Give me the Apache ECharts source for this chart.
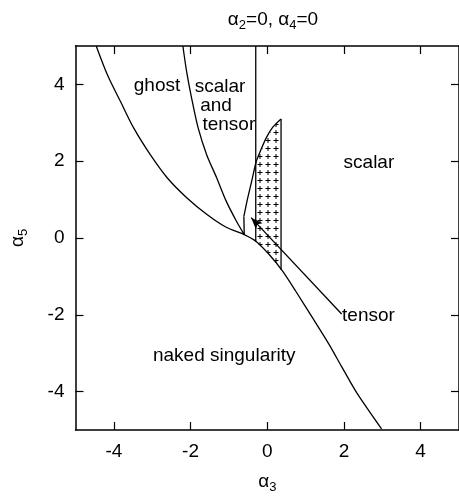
<!DOCTYPE html>
<html><head><meta charset="utf-8">
<script src="https://cdn.jsdelivr.net/npm/echarts@6/dist/echarts.min.js"></script>
<style>html,body{margin:0;padding:0;background:#fff}#c{width:459px;height:499px}</style>
</head><body><div id="c"></div>
<script>
// ---- data ----
const xTicks = [-4, -2, 0, 2, 4];
const yTicks = [-4, -2, 0, 2, 4];

// ghost / naked singularity boundary
const ghostCurve = [[-4.46, 5.0], [-4.16, 4.23], [-3.82, 3.54], [-3.48, 2.86], [-3.05, 2.17], [-2.61, 1.57],
  [-2.10, 1.05], [-1.58, 0.62], [-1.07, 0.28], [-0.60, 0.09], [-0.29, -0.09], [0.05, -0.43], [0.40, -0.86],
  [0.74, -1.38], [1.17, -2.06], [1.60, -2.75], [1.94, -3.35], [2.29, -3.96], [2.63, -4.47], [2.98, -4.97]];
// scalar-and-tensor boundary
const stCurve = [[-2.20, 5.0], [-2.10, 4.32], [-1.97, 3.63], [-1.80, 2.86], [-1.58, 2.17], [-1.32, 1.57],
  [-1.07, 0.96], [-0.81, 0.45], [-0.60, 0.09]];
// left boundary of hatched pocket
const pocketStem = [[-0.60, 0.09], [-0.61, 0.56]];
const pocketCurve = [[-0.61, 0.56], [-0.53, 0.95], [-0.41, 1.46], [-0.29, 1.98], [-0.19, 2.24], [-0.02, 2.62],
  [0.14, 2.88], [0.36, 3.1]];
const pocketRight = [[0.36, 3.1], [0.36, -0.83]];
const verticalLine = [[-0.3, 5.0], [-0.3, -0.1]];
// hatched region outline
const hatchUpper = [[-0.3, 1.95], [-0.19, 2.24], [-0.02, 2.62], [0.14, 2.88], [0.36, 3.1]];
const hatchLower = [[-0.3, -0.1], [0.05, -0.43], [0.36, -0.83]];
// tensor arrow
const arrowFrom = [1.94, -1.98];
const arrowTo = [-0.42, 0.53];
// region labels
const labelNames = ['ghost', 'scalar', 'and', 'tensor', 'scalar', 'tensor', 'naked singularity'];
const labelX = [-3.48, -1.89, -1.75, -1.69, 1.99, 1.95, -2.98];
const labelY = [3.97, 3.95, 3.45, 2.96, 1.97, -2.03, -3.06];

// ---- chart ----
const FONT = '"Liberation Sans", Arial, Helvetica, sans-serif';
const FS = 19;
const rich = {
  a: { fontSize: FS, lineHeight: 24, fontFamily: FONT, fontWeight: 'normal', color: '#000' },
  s: { fontSize: 13, lineHeight: 12, verticalAlign: 'bottom', fontFamily: FONT, fontWeight: 'normal', color: '#000' }
};

const pat = document.createElement('canvas');
pat.width = 8; pat.height = 8;
(function () {
  const g = pat.getContext('2d');
  g.fillStyle = '#fff'; g.fillRect(0, 0, 8, 8);
  g.strokeStyle = '#000'; g.lineWidth = 1;
  g.beginPath();
  g.moveTo(1.5, 4.5); g.lineTo(6.5, 4.5);
  g.moveTo(4, 2); g.lineTo(4, 7);
  g.stroke();
})();

const lineStyle = { color: '#000', width: 1.3 };
function lineSeries(data, smooth) {
  return { type: 'line', data: data, smooth: smooth, showSymbol: false, symbol: 'none',
    lineStyle: lineStyle, silent: true, animation: false, z: 3 };
}
const axisCommon = {
  type: 'value', min: -5, max: 5,
  axisLine: { show: true, onZero: false, lineStyle: { color: '#000', width: 1.5 } },
  splitLine: { show: false }
};

const chart = echarts.init(document.getElementById('c'), null, { renderer: 'canvas' });
chart.setOption({
  animation: false,
  backgroundColor: '#fff',
  title: {
    text: '{a|α}{s|2}{a|=0, α}{s|4}{a|=0}',
    left: 268, top: 3, textAlign: 'center',
    textStyle: { fontWeight: 'normal', rich: rich }
  },
  grid: { left: 74, top: 46, width: 388, height: 388 },
  xAxis: [
    Object.assign({}, axisCommon, {
      position: 'bottom',
      axisTick: { inside: true, length: 8, customValues: xTicks, lineStyle: { color: '#000', width: 1.2 } },
      axisLabel: { customValues: xTicks, color: '#000', fontSize: FS, fontFamily: FONT, margin: 12 },
      name: '{a|α}{s|3}', nameLocation: 'middle', nameGap: 40,
      nameTextStyle: { rich: rich }
    }),
    Object.assign({}, axisCommon, {
      position: 'top',
      axisTick: { inside: true, length: 8, customValues: xTicks, lineStyle: { color: '#000', width: 1.2 } },
      axisLabel: { show: false }
    })
  ],
  yAxis: [
    Object.assign({}, axisCommon, {
      position: 'left',
      axisTick: { inside: true, length: 8, customValues: yTicks, lineStyle: { color: '#000', width: 1.2 } },
      axisLabel: { customValues: yTicks, color: '#000', fontSize: FS, fontFamily: FONT, margin: 11 },
      name: '{a|α}{s|5}', nameLocation: 'middle', nameGap: 46, nameRotate: 90,
      nameTextStyle: { rich: rich }
    }),
    Object.assign({}, axisCommon, {
      position: 'right',
      axisTick: { inside: true, length: 8, customValues: yTicks, lineStyle: { color: '#000', width: 1.2 } },
      axisLabel: { show: false }
    })
  ],
  series: [
    {
      type: 'custom', coordinateSystem: 'cartesian2d', data: [[0, 0]], silent: true, z: 1,
      renderItem: function (params, api) {
        const pts = hatchUpper.concat(hatchLower.slice().reverse()).map(function (p) { return api.coord(p); });
        return { type: 'polygon', shape: { points: pts },
          style: { fill: { image: pat, repeat: 'repeat' }, stroke: null } };
      }
    },
    lineSeries(ghostCurve, 0.3),
    lineSeries(stCurve, 0.3),
    lineSeries(pocketStem, false),
    lineSeries(pocketCurve, 0.3),
    lineSeries(pocketRight, false),
    lineSeries(verticalLine, false),
    {
      type: 'line', data: [], silent: true,
      markLine: {
        silent: true, animation: false,
        symbol: ['none', 'arrow'], symbolSize: [7, 12],
        label: { show: false },
        lineStyle: { color: '#000', width: 1.3, type: 'solid' },
        data: [[{ coord: arrowFrom }, { coord: arrowTo }]]
      }
    },
    {
      type: 'scatter', symbolSize: 0, silent: true, z: 4,
      data: labelNames.map(function (n, i) { return { name: n, value: [labelX[i], labelY[i]] }; }),
      label: { show: true, position: 'right', distance: 0, formatter: '{b}',
        color: '#000', opacity: 1, textBorderWidth: 0, fontSize: FS, fontFamily: FONT }
    }
  ]
});
</script>
</body></html>
